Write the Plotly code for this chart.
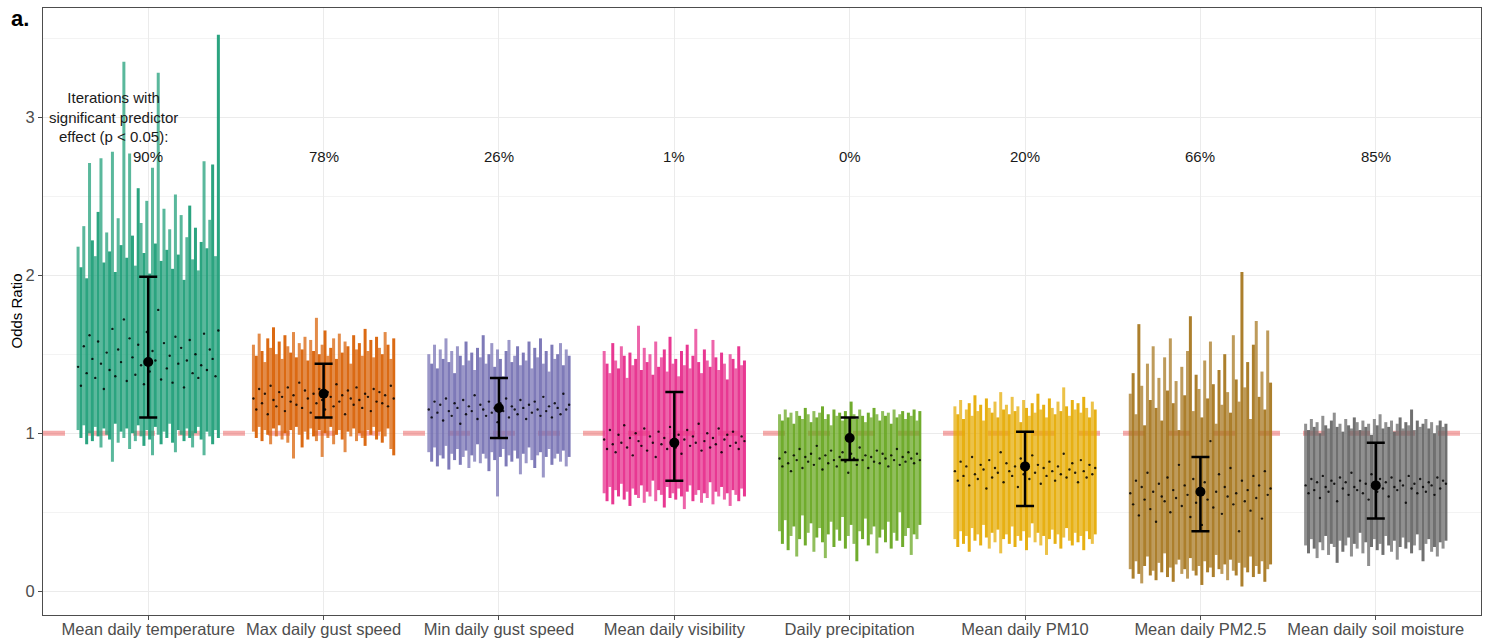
import numpy as np
import plotly.graph_objects as go

categories = ["Mean daily temperature", "Max daily gust speed", "Min daily gust speed",
              "Mean daily visibility", "Daily precipitation", "Mean daily PM10",
              "Mean daily PM2.5", "Mean daily soil moisture"]
colors = ["#1B9E77", "#D95F02", "#7570B3", "#E7298A", "#66A61E", "#E6AB02", "#A6761D", "#666666"]
sig_pct = ["90%", "78%", "26%", "1%", "0%", "20%", "66%", "85%"]
ref_line = 1.0

summary_est = [1.45, 1.25, 1.16, 0.94, 0.97, 0.79, 0.63, 0.67]
summary_lo = [1.10, 1.10, 0.97, 0.70, 0.83, 0.54, 0.38, 0.46]
summary_hi = [1.99, 1.44, 1.35, 1.26, 1.10, 1.01, 0.85, 0.94]

# per-iteration confidence intervals (hand-read estimates)
temp_hi = [2.18, 2.05, 2.31, 1.98, 2.71, 2.22, 2.12, 2.40, 2.74, 2.08, 2.27, 2.15, 2.78, 2.02, 2.36, 2.19, 3.35, 2.11, 2.77, 2.25,
           2.06, 2.55, 2.33, 2.14, 2.47, 2.01, 2.68, 2.20, 3.28, 2.09, 2.42, 2.16, 2.29, 2.04, 2.51, 2.13, 2.38, 1.97, 2.24, 2.44,
           2.10, 2.30, 2.03, 2.21, 2.72, 2.17, 2.35, 2.70, 2.12, 3.52]
temp_lo = [1.02, 0.97, 1.05, 0.93, 1.00, 0.95, 1.04, 0.98, 0.91, 1.03, 0.99, 0.96, 0.82, 1.06, 0.94, 1.01, 0.97, 1.03, 0.90, 1.00,
           0.95, 1.05, 0.98, 0.92, 1.02, 0.96, 0.86, 1.04, 0.99, 0.93, 1.01, 0.97, 1.06, 0.94, 0.88, 1.02, 0.99, 0.95, 1.03, 0.97,
           0.91, 1.00, 1.04, 0.96, 0.86, 1.01, 0.98, 0.93, 1.02, 0.97]
temp_est = [1.42, 1.30, 1.55, 1.38, 1.62, 1.47, 1.35, 1.58, 1.44, 1.28, 1.51, 1.40, 1.66, 1.36, 1.53, 1.45, 1.72, 1.33, 1.60, 1.48,
            1.37, 1.56, 1.43, 1.31, 1.64, 1.39, 1.52, 1.46, 1.78, 1.34, 1.57, 1.41, 1.49, 1.32, 1.61, 1.44, 1.54, 1.29, 1.46, 1.59,
            1.38, 1.50, 1.35, 1.43, 1.63, 1.40, 1.53, 1.47, 1.36, 1.65]

gmax_hi = [1.56, 1.49, 1.63, 1.52, 1.45, 1.60, 1.54, 1.67, 1.50, 1.58, 1.47, 1.62, 1.55, 1.51, 1.64, 1.48, 1.57, 1.53, 1.61, 1.46,
           1.59, 1.52, 1.73, 1.50, 1.56, 1.65, 1.49, 1.54, 1.60, 1.47, 1.63, 1.51, 1.58, 1.55, 1.44, 1.62, 1.53, 1.57, 1.49, 1.66,
           1.52, 1.59, 1.48, 1.61, 1.54, 1.50, 1.64, 1.56, 1.47, 1.60]
gmax_lo = [1.01, 0.97, 1.04, 0.95, 1.02, 0.99, 0.93, 1.03, 0.98, 1.05, 0.96, 1.00, 0.94, 1.02, 0.84, 1.04, 0.99, 0.91, 1.01, 0.96,
           1.03, 0.98, 0.95, 1.02, 0.85, 1.00, 0.97, 1.04, 0.93, 0.99, 1.02, 0.96, 0.88, 1.01, 0.98, 1.03, 0.95, 1.00, 0.97, 0.92,
           1.02, 0.99, 1.04, 0.96, 1.01, 0.94, 0.98, 1.03, 0.90, 0.86]
gmax_est = [1.22, 1.15, 1.28, 1.19, 1.25, 1.12, 1.30, 1.21, 1.17, 1.26, 1.23, 1.14, 1.29, 1.20, 1.24, 1.18, 1.32, 1.16, 1.27, 1.22,
            1.13, 1.25, 1.19, 1.28, 1.21, 1.15, 1.26, 1.23, 1.17, 1.31, 1.20, 1.24, 1.12, 1.27, 1.22, 1.18, 1.29, 1.21, 1.16, 1.25,
            1.23, 1.14, 1.28, 1.20, 1.26, 1.19, 1.24, 1.17, 1.30, 1.22]

gmin_hi = [1.50, 1.44, 1.56, 1.41, 1.53, 1.47, 1.60, 1.45, 1.52, 1.38, 1.55, 1.49, 1.43, 1.58, 1.46, 1.51, 1.40, 1.54, 1.48, 1.62,
           1.44, 1.50, 1.57, 1.42, 1.53, 1.47, 1.36, 1.52, 1.59, 1.45, 1.49, 1.55, 1.43, 1.51, 1.46, 1.58, 1.41, 1.54, 1.48, 1.60,
           1.44, 1.52, 1.39, 1.56, 1.47, 1.50, 1.57, 1.43, 1.53, 1.49]
gmin_lo = [0.88, 0.82, 0.91, 0.79, 0.86, 0.84, 0.92, 0.77, 0.87, 0.83, 0.90, 0.80, 0.85, 0.89, 0.78, 0.86, 0.82, 0.93, 0.81, 0.87,
           0.84, 0.76, 0.88, 0.83, 0.60, 0.85, 0.90, 0.79, 0.86, 0.82, 0.89, 0.84, 0.74, 0.87, 0.81, 0.91, 0.83, 0.78, 0.86, 0.88,
           0.72, 0.85, 0.90, 0.80, 0.84, 0.87, 0.82, 0.89, 0.79, 0.85]
gmin_est = [1.15, 1.10, 1.20, 1.13, 1.18, 1.08, 1.22, 1.14, 1.11, 1.19, 1.16, 1.06, 1.21, 1.12, 1.17, 1.14, 1.24, 1.09, 1.18, 1.15,
            1.11, 1.20, 1.13, 1.16, 1.07, 1.19, 1.14, 1.22, 1.10, 1.17, 1.15, 1.12, 1.21, 1.16, 1.09, 1.18, 1.13, 1.20, 1.15, 1.11,
            1.23, 1.14, 1.17, 1.10, 1.19, 1.16, 1.12, 1.25, 1.15, 1.18]

vis_hi = [1.52, 1.44, 1.38, 1.57, 1.46, 1.41, 1.55, 1.49, 1.35, 1.51, 1.43, 1.47, 1.68, 1.40, 1.54, 1.45, 1.50, 1.37, 1.58, 1.42,
          1.48, 1.53, 1.39, 1.61, 1.44, 1.47, 1.36, 1.52, 1.43, 1.56, 1.41, 1.49, 1.66, 1.45, 1.38, 1.53, 1.46, 1.42, 1.59, 1.48,
          1.40, 1.51, 1.44, 1.34, 1.50, 1.47, 1.41, 1.55, 1.43, 1.46]
vis_lo = [0.62, 0.57, 0.66, 0.55, 0.64, 0.60, 0.68, 0.58, 0.63, 0.54, 0.65, 0.61, 0.59, 0.67, 0.56, 0.63, 0.60, 0.70, 0.57, 0.64,
          0.61, 0.53, 0.66, 0.59, 0.62, 0.58, 0.65, 0.60, 0.52, 0.63, 0.67, 0.57, 0.61, 0.64, 0.56, 0.62, 0.59, 0.69, 0.55, 0.63,
          0.60, 0.66, 0.58, 0.62, 0.54, 0.64, 0.61, 0.57, 0.65, 0.60]
vis_est = [0.96, 0.90, 1.02, 0.93, 0.88, 0.99, 0.94, 1.05, 0.91, 0.97, 0.86, 1.00, 0.95, 0.92, 1.03, 0.89, 0.98, 0.94, 0.85, 1.01,
           0.93, 0.97, 0.90, 1.04, 0.95, 0.91, 0.99, 0.87, 0.96, 1.02, 0.92, 0.98, 0.94, 1.06, 0.89, 0.95, 1.00, 0.91, 0.97, 0.93,
           1.03, 0.88, 0.96, 0.99, 0.92, 1.01, 0.94, 0.90, 0.98, 0.95]

prec_hi = [1.12, 1.08, 1.15, 1.10, 1.13, 1.06, 1.14, 1.11, 1.09, 1.16, 1.12, 1.07, 1.14, 1.10, 1.13, 1.17, 1.09, 1.12, 1.05, 1.15,
           1.11, 1.13, 1.08, 1.14, 1.10, 1.20, 1.12, 1.09, 1.15, 1.11, 1.07, 1.13, 1.10, 1.16, 1.12, 1.08, 1.14, 1.11, 1.13, 1.06,
           1.15, 1.10, 1.12, 1.14, 1.09, 1.13, 1.11, 1.15, 1.08, 1.14]
prec_lo = [0.38, 0.30, 0.45, 0.26, 0.35, 0.41, 0.22, 0.33, 0.48, 0.29, 0.37, 0.43, 0.25, 0.34, 0.40, 0.31, 0.21, 0.36, 0.44, 0.28,
           0.39, 0.32, 0.47, 0.27, 0.35, 0.42, 0.30, 0.19, 0.38, 0.33, 0.46, 0.29, 0.36, 0.41, 0.24, 0.34, 0.39, 0.31, 0.44, 0.27,
           0.37, 0.32, 0.50, 0.28, 0.35, 0.40, 0.23, 0.36, 0.33, 0.42]
prec_est = [0.84, 0.79, 0.88, 0.81, 0.76, 0.86, 0.83, 0.90, 0.78, 0.85, 0.82, 0.87, 0.80, 0.92, 0.84, 0.77, 0.86, 0.81, 0.89, 0.83,
            0.79, 0.85, 0.88, 0.82, 0.75, 0.87, 0.84, 0.80, 0.91, 0.83, 0.86, 0.78, 0.85, 0.82, 0.89, 0.81, 0.87, 0.84, 0.79, 0.86,
            0.83, 0.90, 0.80, 0.85, 0.82, 0.88, 0.84, 0.81, 0.87, 0.83]

pm10_hi = [1.17, 1.12, 1.21, 1.09, 1.15, 1.19, 1.11, 1.24, 1.14, 1.18, 1.08, 1.22, 1.16, 1.13, 1.20, 1.10, 1.26, 1.15, 1.18, 1.12,
           1.23, 1.14, 1.17, 1.07, 1.21, 1.16, 1.11, 1.19, 1.13, 1.25, 1.15, 1.18, 1.10, 1.22, 1.16, 1.12, 1.20, 1.14, 1.29, 1.17,
           1.11, 1.21, 1.15, 1.19, 1.13, 1.23, 1.16, 1.10, 1.20, 1.15]
pm10_lo = [0.33, 0.28, 0.38, 0.30, 0.35, 0.25, 0.40, 0.32, 0.36, 0.29, 0.42, 0.34, 0.27, 0.37, 0.31, 0.39, 0.24, 0.33, 0.36, 0.30,
           0.41, 0.28, 0.35, 0.32, 0.38, 0.26, 0.34, 0.43, 0.31, 0.37, 0.29, 0.35, 0.23, 0.33, 0.39, 0.30, 0.36, 0.27, 0.34, 0.40,
           0.32, 0.29, 0.37, 0.31, 0.35, 0.26, 0.38, 0.33, 0.30, 0.36]
pm10_est = [0.76, 0.70, 0.82, 0.73, 0.79, 0.67, 0.85, 0.74, 0.71, 0.80, 0.77, 0.65, 0.83, 0.72, 0.78, 0.75, 0.88, 0.69, 0.81, 0.76,
            0.73, 0.79, 0.66, 0.84, 0.74, 0.77, 0.71, 0.86, 0.75, 0.80, 0.68, 0.78, 0.73, 0.82, 0.76, 0.70, 0.79, 0.74, 0.87, 0.72,
            0.77, 0.81, 0.75, 0.69, 0.83, 0.76, 0.72, 0.80, 0.74, 0.78]

pm25_hi = [1.25, 1.38, 1.12, 1.69, 1.30, 1.05, 1.44, 1.21, 1.55, 1.16, 1.35, 1.08, 1.48, 1.27, 1.60, 1.19, 1.33, 1.02, 1.42, 1.24,
           1.52, 1.74, 1.14, 1.37, 1.28, 1.10, 1.46, 1.22, 1.58, 1.31, 1.06, 1.40, 1.18, 1.50, 1.26, 1.13, 1.62, 1.34, 1.20, 2.02,
           1.29, 1.45, 1.09, 1.56, 1.71, 1.23, 1.39, 1.15, 1.65, 1.32]
pm25_lo = [0.14, 0.08, 0.19, 0.11, 0.05, 0.16, 0.22, 0.10, 0.13, 0.07, 0.18, 0.12, 0.24, 0.09, 0.15, 0.06, 0.17, 0.20, 0.11, 0.14,
           0.08, 0.21, 0.13, 0.10, 0.16, 0.04, 0.19, 0.12, 0.15, 0.09, 0.23, 0.14, 0.11, 0.17, 0.07, 0.20, 0.13, 0.10, 0.18, 0.03,
           0.15, 0.12, 0.22, 0.09, 0.16, 0.11, 0.19, 0.06, 0.14, 0.17]
pm25_est = [0.62, 0.55, 0.70, 0.48, 0.66, 0.58, 0.75, 0.52, 0.63, 0.44, 0.68, 0.60, 0.57, 0.72, 0.50, 0.64, 0.59, 0.80, 0.54, 0.67,
            0.61, 0.47, 0.71, 0.56, 0.65, 0.42, 0.69, 0.58, 0.95, 0.53, 0.63, 0.74, 0.49, 0.66, 0.60, 0.78, 0.55, 0.62, 0.38, 0.70,
            0.57, 0.64, 0.51, 0.73, 0.59, 0.67, 0.46, 0.76, 0.61, 0.65]

soil_hi = [1.06, 1.02, 1.09, 1.04, 1.07, 1.00, 1.11, 1.05, 1.03, 1.08, 1.13, 1.04, 1.06, 1.01, 1.09, 1.05, 1.03, 1.10, 1.07, 1.02,
           1.08, 1.04, 1.06, 0.99, 1.09, 1.05, 1.12, 1.03, 1.07, 1.04, 1.08, 1.01, 1.06, 1.10, 1.03, 1.07, 1.05, 1.15, 1.02, 1.08,
           1.04, 1.06, 1.09, 1.03, 1.07, 1.00, 1.05, 1.08, 1.04, 1.06]
soil_lo = [0.29, 0.24, 0.33, 0.27, 0.21, 0.31, 0.26, 0.35, 0.23, 0.30, 0.28, 0.18, 0.32, 0.25, 0.29, 0.34, 0.22, 0.30, 0.27, 0.37,
           0.24, 0.31, 0.16, 0.28, 0.33, 0.26, 0.30, 0.23, 0.35, 0.29, 0.25, 0.32, 0.20, 0.28, 0.34, 0.27, 0.31, 0.24, 0.29, 0.36,
           0.26, 0.19, 0.30, 0.33, 0.25, 0.28, 0.22, 0.31, 0.27, 0.32]
soil_est = [0.67, 0.62, 0.71, 0.64, 0.69, 0.59, 0.73, 0.66, 0.63, 0.70, 0.68, 0.57, 0.72, 0.65, 0.69, 0.61, 0.75, 0.66, 0.64, 0.70,
            0.62, 0.68, 0.58, 0.74, 0.67, 0.63, 0.71, 0.65, 0.69, 0.60, 0.72, 0.66, 0.64, 0.70, 0.67, 0.56, 0.73, 0.65, 0.68, 0.62,
            0.71, 0.66, 0.63, 0.69, 0.67, 0.61, 0.72, 0.65, 0.70, 0.68]

iter_hi = [temp_hi, gmax_hi, gmin_hi, vis_hi, prec_hi, pm10_hi, pm25_hi, soil_hi]
iter_lo = [temp_lo, gmax_lo, gmin_lo, vis_lo, prec_lo, pm10_lo, pm25_lo, soil_lo]
iter_est = [temp_est, gmax_est, gmin_est, vis_est, prec_est, pm10_est, pm25_est, soil_est]

FONT = "Liberation Sans, Arial, Helvetica, sans-serif"
X_RANGE = [0.4, 8.6]
fig = go.Figure()

# reference line at OR = 1 (drawn first so it sits under the clouds, above the grid)
fig.add_trace(go.Scatter(x=X_RANGE, y=[ref_line, ref_line], mode="lines",
                         line=dict(color="rgba(235,90,90,0.5)", width=5, dash="22px,23px"),
                         hoverinfo="skip", showlegend=False))

for k in range(len(categories)):
    lo, hi, est = iter_lo[k], iter_hi[k], iter_est[k]
    n = min(len(lo), len(hi), len(est))
    xs = (k + 1) + np.linspace(-0.4, 0.4, n)
    # two interleaved layers give the streaky texture of overlapping thin lines
    for parity, op in ((0, 0.72), (1, 0.93)):
        sx, sy = [], []
        for i in range(parity, n, 2):
            sx += [xs[i], xs[i], None]
            sy += [lo[i], hi[i], None]
        fig.add_trace(go.Scatter(x=sx, y=sy, mode="lines", line=dict(color=colors[k], width=3.0),
                                 opacity=op, hoverinfo="skip", showlegend=False))
    fig.add_trace(go.Scatter(x=xs, y=est[:n], mode="markers",
                             marker=dict(color="black", size=2.4), opacity=0.85,
                             hoverinfo="skip", showlegend=False))

cx = list(range(1, len(categories) + 1))
fig.add_trace(go.Scatter(
    x=cx, y=summary_est, mode="markers",
    marker=dict(color="black", size=10),
    error_y=dict(type="data", symmetric=False,
                 array=[h - e for h, e in zip(summary_hi, summary_est)],
                 arrayminus=[e - l for e, l in zip(summary_est, summary_lo)],
                 color="black", thickness=2.5, width=9),
    showlegend=False))

for k, p in enumerate(sig_pct):
    fig.add_annotation(x=k + 1, y=2.75, text=p, showarrow=False,
                       font=dict(family=FONT, size=15, color="#1a1a1a"))
fig.add_annotation(x=0.8, y=3.0, text="Iterations with<br>significant predictor<br>effect (p &lt; 0.05):",
                   showarrow=False, font=dict(family=FONT, size=15, color="#1a1a1a"))
fig.add_annotation(xref="paper", yref="paper", x=0, y=1, xanchor="left", yanchor="middle",
                   xshift=-34, yshift=-10, text="<b>a.</b>", showarrow=False,
                   font=dict(family=FONT, size=22, color="black"))
fig.add_annotation(xref="paper", yref="paper", x=0, y=0.5, xanchor="center", yanchor="middle",
                   xshift=-27, textangle=-90, text="Odds Ratio", showarrow=False,
                   font=dict(family=FONT, size=15, color="black"))

axis_common = dict(showline=True, mirror=True, linecolor="#4d4d4d", linewidth=1,
                   ticks="outside", ticklen=4, tickcolor="#4d4d4d", zeroline=False,
                   gridcolor="#EBEBEB", gridwidth=1, automargin=False,
                   tickfont=dict(family=FONT, size=16.5, color="#4D4D4D"))
fig.update_layout(
    width=1491, height=642,
    margin=dict(l=43, r=10, t=8, b=27),
    paper_bgcolor="white", plot_bgcolor="white",
    xaxis=dict(range=X_RANGE, tickvals=cx, ticktext=categories, ticklabelstandoff=-5, **axis_common),
    yaxis=dict(range=[-0.15, 3.69], tickvals=[0, 1, 2, 3],
               minor=dict(dtick=0.5, tick0=0, showgrid=True, gridcolor="#F3F3F3", gridwidth=1, ticks=""),
               **axis_common),
    font=dict(family=FONT),
)

fig.write_html("out.html", config={"displayModeBar": False},
               post_script="document.body.style.margin='0px';document.body.style.overflow='hidden';")
